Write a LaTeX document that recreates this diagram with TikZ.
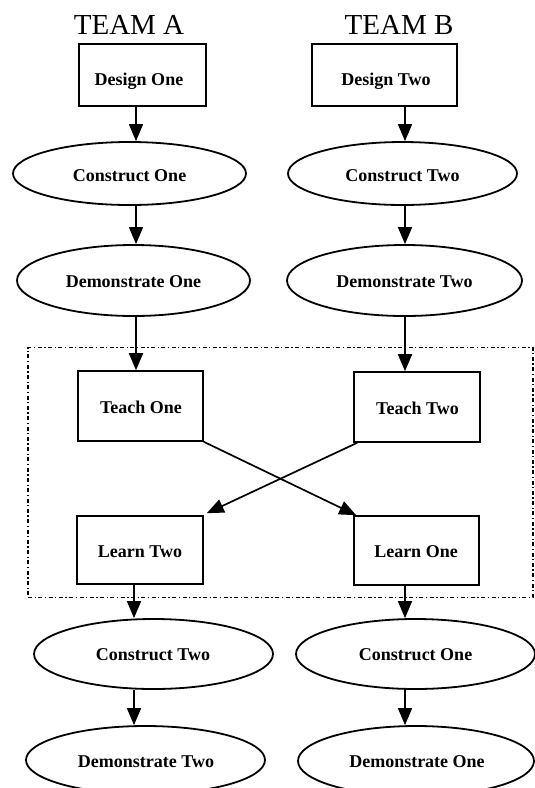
\documentclass[tikz,border=0pt]{standalone}
\usepackage{fontspec}
\setmainfont{Liberation Serif}
\usetikzlibrary{arrows.meta,shapes.geometric}
\begin{document}
\begin{tikzpicture}[x=1pt,y=-1pt,
  teamlabel/.style={font=\fontsize{29}{29}\selectfont, inner sep=0pt},
  stepbox/.style={draw, line width=1.6pt, rectangle, inner sep=0pt},
  stage/.style={draw, line width=1.8pt, ellipse, inner sep=0pt},
  caption/.style={inner sep=0pt, font=\bfseries\fontsize{18}{18}\selectfont},
  flow/.style={line width=1.7pt, -{Triangle[length=17pt,width=14pt]}},
  zone/.style={line width=1.3pt, dash pattern=on 4pt off 2.5pt on 1.3pt off 2.5pt}
]
\path[use as bounding box] (0,0) rectangle (535,788);
\clip (0,0) rectangle (535,788);

% column headings
\node[teamlabel] (ta) at (129,24.5) {TEAM A};
\node[teamlabel] (tb) at (399,24.5) {TEAM B};

% arrow columns
\coordinate (colA) at (136,0);
\coordinate (colB) at (405,0);
\coordinate (colAl) at (134,0);

% first round
\node[stepbox, minimum width=127, minimum height=62] (d1) at (142.5,75) {};
\node[caption] (d1t) at (139,81) {Design One};
\node[stepbox, minimum width=145, minimum height=62] (d2) at (384.5,75) {};
\node[caption] (d2t) at (386,81) {Design Two};

\node[stage, minimum width=233, minimum height=63] (c1) at (129.5,173.5) {};
\node[caption] (c1t) at (129.5,176) {Construct One};
\node[stage, minimum width=229, minimum height=63] (c2) at (402.5,173.5) {};
\node[caption] (c2t) at (402.5,176) {Construct Two};

\node[stage, minimum width=233, minimum height=71] (m1) at (133.5,280.5) {};
\node[caption] (m1t) at (133.5,281.5) {Demonstrate One};
\node[stage, minimum width=235, minimum height=71] (m2) at (404.5,280.5) {};
\node[caption] (m2t) at (404.5,281.5) {Demonstrate Two};

% exchange zone
\node[zone, draw, rectangle, inner sep=0pt, minimum width=505, minimum height=250] (zn) at (280.5,472.5) {};

\node[stepbox, minimum width=125, minimum height=70] (t1) at (140.5,406) {};
\node[caption] (t1t) at (141,407) {Teach One};
\node[stepbox, minimum width=126, minimum height=70] (t2) at (417,407) {};
\node[caption] (t2t) at (417.5,408) {Teach Two};

\node[stepbox, minimum width=126, minimum height=68] (l2) at (140,550) {};
\node[caption] (l2t) at (140,552) {Learn Two};
\node[stepbox, minimum width=125, minimum height=69] (l1) at (416.5,550.5) {};
\node[caption] (l1t) at (416,552) {Learn One};

% second round
\node[stage, minimum width=239, minimum height=70] (bc2) at (153.5,654) {};
\node[caption] (bc2t) at (153,655) {Construct Two};
\node[stage, minimum width=239, minimum height=70] (bc1) at (415.5,654) {};
\node[caption] (bc1t) at (415.5,655) {Construct One};

\node[stage, minimum width=239, minimum height=68] (bm2) at (145.5,760) {};
\node[caption] (bm2t) at (146,762) {Demonstrate Two};
\node[stage, minimum width=236, minimum height=70] (bm1) at (416,761) {};
\node[caption] (bm1t) at (417,762) {Demonstrate One};

% connectors
\draw[flow] (d1.south -| colA) -- (c1.north -| colA);
\draw[flow] (d2.south -| colB) -- (c2.north -| colB);
\draw[flow] (c1.south -| colA) -- (m1.north -| colA);
\draw[flow] (c2.south -| colB) -- (m2.north -| colB);
\draw[flow] (m1.south -| colA) -- (t1.north -| colA);
\draw[flow] (m2.south -| colB) -- (t2.north -| colB);

\draw[flow] (t1.south east) -- ([xshift=3pt]l1.north west);
\draw[flow] ([xshift=4pt]t2.south west) -- ([xshift=3pt,yshift=2pt]l2.north east);

\draw[flow] (l2.south -| colAl) -- (bc2.north -| colAl);
\draw[flow] (l1.south -| colB) -- (bc1.north -| colB);
\draw[flow] (bc2.south -| colAl) -- (bm2.north -| colAl);
\draw[flow] (bc1.south -| colB) -- (bm1.north -| colB);
\end{tikzpicture}
\end{document}
